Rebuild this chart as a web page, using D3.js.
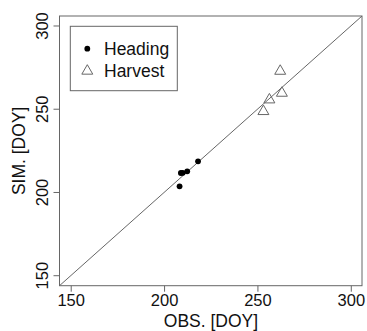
<!DOCTYPE html>
<html><head><meta charset="utf-8">
<script src="https://cdn.jsdelivr.net/npm/d3@7"></script>
<style>body{margin:0;background:#fff}svg{display:block}text{font-family:"Liberation Sans",Arial,sans-serif}</style>
</head><body><svg id="c" width="367" height="331"></svg>
<script>
const headingObs = [208.3, 209.0, 210.0, 212.4, 218.2];
const headingSim = [203.7, 211.7, 211.8, 212.7, 218.7];
const harvestObs = [253.2, 256.4, 262.2, 263.1];
const harvestSim = [249.3, 256.3, 273.5, 260.3];
const ticks = [150, 200, 250, 300];
const legendLabels = ["Heading", "Harvest"];

const svg = d3.select("#c");
const L = 59.5, R = 362, T = 16, B = 285.7;
const x = d3.scaleLinear().domain([144, 306]).range([L, R]);
const y = d3.scaleLinear().domain([144, 306]).range([B, T]);
const grey = "#666";

svg.append("defs").append("clipPath").attr("id","cp").append("rect")
  .attr("x",L).attr("y",T).attr("width",R-L).attr("height",B-T);

svg.append("line").attr("clip-path","url(#cp)")
  .attr("x1",x(144)).attr("y1",y(144)).attr("x2",x(306)).attr("y2",y(306))
  .attr("stroke",grey).attr("stroke-width",1);

const xa = svg.append("g").attr("transform",`translate(0,${B})`)
  .call(d3.axisBottom(x).tickValues(ticks).tickSize(6).tickPadding(3));
const ya = svg.append("g").attr("transform",`translate(${L},0)`)
  .call(d3.axisLeft(y).tickValues(ticks).tickSize(6).tickPadding(3));
[xa, ya].forEach(a => {
  a.select(".domain").remove();
  a.selectAll("line").attr("stroke", grey);
  a.selectAll("text").attr("font-size", 16.5).attr("fill", "#111")
   .attr("font-family", '"Liberation Sans",Arial,sans-serif');
});
ya.selectAll("text").attr("text-anchor","middle").attr("dy",null).attr("x",null)
  .attr("transform", d => `translate(-18,${y(d)}) rotate(-90)`).attr("y", 0)
  .attr("dominant-baseline","central");
ya.selectAll(".tick").attr("transform", null);
ya.selectAll(".tick line").attr("y1", d => y(d)).attr("y2", d => y(d));

svg.append("rect").attr("x",L).attr("y",T).attr("width",R-L).attr("height",B-T)
  .attr("fill","none").attr("stroke",grey).attr("stroke-width",1);

svg.append("text").attr("x",211).attr("y",327).attr("text-anchor","middle")
  .attr("font-size",17.5).attr("fill","#111").text("OBS. [DOY]");
svg.append("text").attr("transform",`translate(25,${(T+B)/2}) rotate(-90)`)
  .attr("text-anchor","middle").attr("font-size",17.5).attr("fill","#111").text("SIM. [DOY]");

const tri = d3.symbol().type(d3.symbolTriangle).size(52);

svg.append("g").selectAll("circle").data(headingObs).join("circle")
  .attr("cx",(d)=>x(d)).attr("cy",(d,i)=>y(headingSim[i])).attr("r",2.9).attr("fill","#000");
svg.append("g").selectAll("path").data(harvestObs).join("path")
  .attr("d",tri).attr("transform",(d,i)=>`translate(${x(d)},${y(harvestSim[i])+1})`)
  .attr("fill","none").attr("stroke",grey).attr("stroke-width",1);

// legend
const lg = svg.append("g");
lg.append("rect").attr("x",70.3).attr("y",26.3).attr("width",107).attr("height",64.4)
  .attr("fill","#fff").attr("stroke",grey);
lg.append("circle").attr("cx",87.3).attr("cy",48.7).attr("r",2.9).attr("fill","#000");
lg.append("path").attr("d",tri).attr("transform","translate(87.3,71)")
  .attr("fill","none").attr("stroke",grey);
lg.selectAll("text").data(legendLabels).join("text")
  .attr("x",104).attr("y",(d,i)=>49.3+i*21.7).attr("dominant-baseline","central")
  .attr("font-size",17.5).attr("fill","#111").text(d=>d);
</script></body></html>
